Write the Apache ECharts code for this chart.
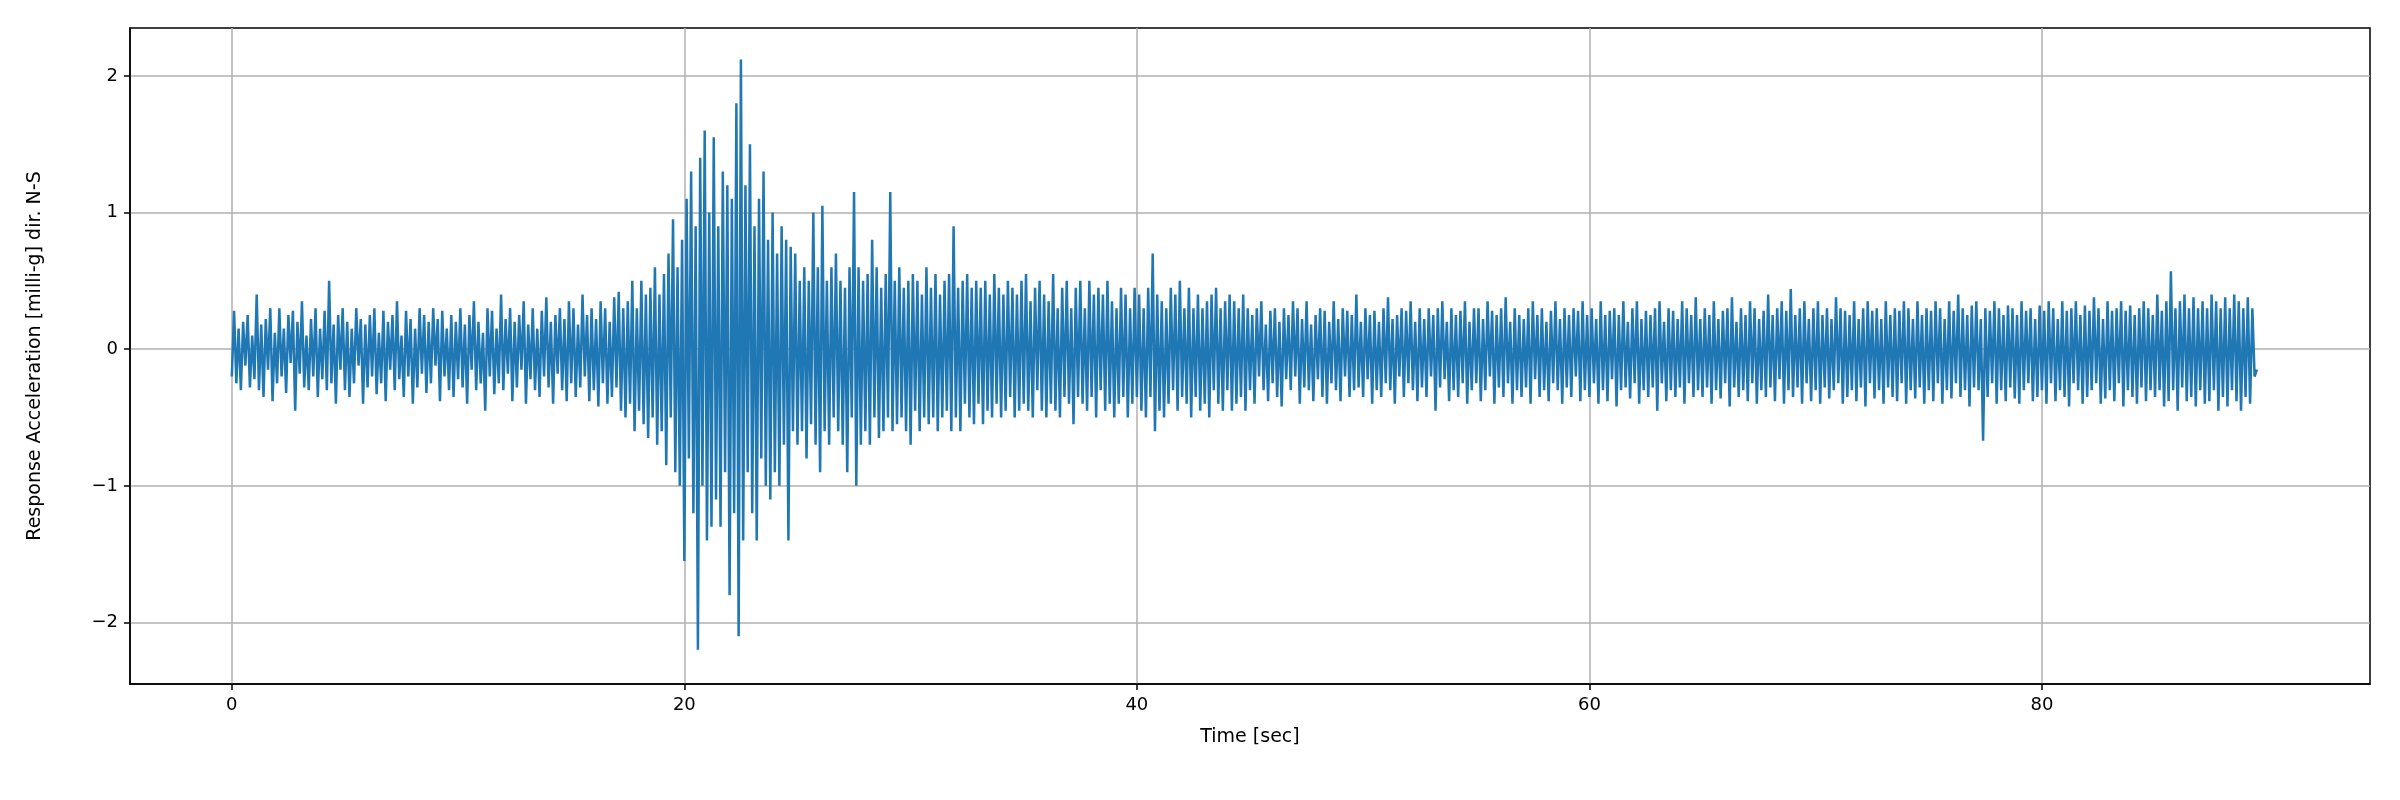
<!DOCTYPE html>
<html><head><meta charset="utf-8">
<script src="https://cdn.jsdelivr.net/npm/echarts@6/dist/echarts.min.js"></script>
<style>html,body{margin:0;background:#fff}#c{width:2400px;height:800px}</style>
</head><body><div id="c"></div>
<script>
const dt = 0.1;
const xTicks = [0, 20, 40, 60, 80];
const yTicks = [-2, -1, 0, 1, 2];
const values = [
// 0-5
-0.2,0.28,-0.25,0.15,-0.3,0.2,-0.12,0.25,-0.28,0.1,-0.22,0.4,-0.3,0.18,-0.35,0.22,-0.15,0.3,-0.38,0.12,
-0.25,0.3,-0.2,0.15,-0.32,0.25,-0.1,0.28,-0.45,0.2,-0.18,0.35,-0.28,0.1,-0.3,0.22,-0.2,0.3,-0.35,0.15,
-0.22,0.28,-0.3,0.5,-0.25,0.18,-0.4,0.25,-0.15,0.3,
// 5-10
-0.3,0.2,-0.35,0.15,-0.25,0.3,-0.12,0.22,-0.4,0.18,-0.28,0.25,-0.2,0.3,-0.33,0.12,-0.25,0.28,-0.38,0.2,
-0.15,0.25,-0.3,0.35,-0.22,0.1,-0.35,0.28,-0.2,0.22,-0.4,0.15,-0.28,0.3,-0.18,0.25,-0.32,0.2,-0.25,0.3,
-0.12,0.22,-0.38,0.28,-0.2,0.15,-0.3,0.25,-0.35,0.2,
// 10-15
-0.22,0.3,-0.28,0.18,-0.4,0.25,-0.15,0.35,-0.3,0.2,-0.25,0.12,-0.45,0.3,-0.2,0.28,-0.33,0.15,-0.25,0.4,
-0.3,0.22,-0.18,0.3,-0.38,0.2,-0.28,0.25,-0.15,0.35,-0.4,0.18,-0.22,0.3,-0.3,0.15,-0.35,0.28,-0.2,0.38,
-0.28,0.2,-0.4,0.25,-0.18,0.3,-0.3,0.22,-0.38,0.35,
// 15-20
-0.25,0.3,-0.35,0.18,-0.28,0.4,-0.2,0.25,-0.38,0.3,-0.3,0.22,-0.42,0.35,-0.25,0.3,-0.4,0.2,-0.35,0.38,
-0.28,0.42,-0.45,0.3,-0.5,0.35,-0.4,0.5,-0.6,0.3,-0.45,0.5,-0.55,0.4,-0.65,0.45,-0.5,0.6,-0.7,0.4,
-0.6,0.55,-0.85,0.7,-0.5,0.95,-0.9,0.6,-1.0,0.8,
// 20-25
-1.55,1.1,-0.8,1.3,-1.2,0.9,-2.2,1.4,-1.0,1.6,-1.4,1.0,-1.3,1.55,-1.1,0.9,-1.3,1.3,-0.9,1.2,
-1.8,1.1,-1.2,1.8,-2.1,2.12,-1.4,1.2,-0.9,1.5,-1.2,0.9,-1.4,1.1,-0.8,1.3,-1.0,0.8,-1.1,1.0,
-0.9,0.7,-1.0,0.9,-0.7,0.8,-1.4,0.75,-0.6,0.7,
// 25-30
-0.7,0.5,-0.6,0.6,-0.8,0.5,-0.55,1.0,-0.7,0.6,-0.9,1.05,-0.6,0.5,-0.7,0.6,-0.5,0.7,-0.6,0.5,
-0.7,0.45,-0.9,0.6,-0.5,1.15,-1.0,0.6,-0.7,0.5,-0.6,0.55,-0.7,0.8,-0.5,0.6,-0.65,0.45,-0.6,0.55,
-0.5,1.15,-0.6,0.5,-0.55,0.6,-0.5,0.45,-0.6,0.5,
// 30-35
-0.7,0.55,-0.45,0.5,-0.6,0.4,-0.5,0.6,-0.55,0.45,-0.5,0.55,-0.6,0.4,-0.5,0.5,-0.45,0.55,-0.6,0.9,
-0.5,0.45,-0.6,0.5,-0.4,0.55,-0.5,0.45,-0.55,0.5,-0.4,0.45,-0.55,0.5,-0.45,0.4,-0.5,0.55,-0.4,0.45,
-0.5,0.4,-0.45,0.5,-0.35,0.45,-0.5,0.4,-0.45,0.5,
// 35-40
-0.4,0.55,-0.45,0.35,-0.5,0.45,-0.3,0.5,-0.45,0.4,-0.5,0.35,-0.4,0.55,-0.45,0.3,-0.5,0.45,-0.35,0.5,
-0.4,0.3,-0.55,0.45,-0.35,0.5,-0.4,0.3,-0.45,0.5,-0.35,0.4,-0.5,0.45,-0.3,0.4,-0.45,0.5,-0.4,0.35,
-0.5,0.3,-0.4,0.45,-0.35,0.4,-0.5,0.3,-0.4,0.45,
// 40-45
-0.35,0.4,-0.45,0.3,-0.5,0.45,-0.35,0.7,-0.6,0.4,-0.45,0.35,-0.5,0.3,-0.4,0.45,-0.3,0.4,-0.45,0.5,
-0.35,0.3,-0.4,0.45,-0.5,0.3,-0.35,0.4,-0.45,0.3,-0.4,0.35,-0.5,0.4,-0.3,0.45,-0.4,0.3,-0.45,0.35,
-0.3,0.4,-0.45,0.35,-0.4,0.3,-0.35,0.4,-0.45,0.3,
// 45-50
-0.3,0.25,-0.4,0.3,-0.2,0.35,-0.3,0.18,-0.38,0.28,-0.25,0.3,-0.35,0.2,-0.42,0.3,-0.22,0.25,-0.3,0.35,
-0.2,0.3,-0.4,0.22,-0.28,0.35,-0.3,0.18,-0.38,0.25,-0.22,0.3,-0.35,0.28,-0.4,0.2,-0.25,0.35,-0.3,0.22,
-0.38,0.3,-0.2,0.28,-0.35,0.25,-0.3,0.4,-0.28,0.2,
// 50-55
-0.35,0.3,-0.22,0.25,-0.4,0.28,-0.3,0.2,-0.35,0.3,-0.25,0.38,-0.3,0.22,-0.4,0.25,-0.2,0.3,-0.35,0.28,
-0.25,0.35,-0.3,0.2,-0.38,0.3,-0.28,0.22,-0.35,0.3,-0.2,0.25,-0.45,0.3,-0.28,0.35,-0.22,0.2,-0.38,0.3,
-0.3,0.25,-0.35,0.28,-0.25,0.35,-0.4,0.2,-0.3,0.3,
// 55-60
-0.25,0.3,-0.38,0.22,-0.3,0.35,-0.2,0.28,-0.4,0.25,-0.28,0.3,-0.35,0.38,-0.25,0.2,-0.4,0.3,-0.3,0.25,
-0.35,0.22,-0.28,0.3,-0.4,0.35,-0.22,0.25,-0.35,0.3,-0.3,0.2,-0.38,0.28,-0.25,0.35,-0.3,0.22,-0.4,0.3,
-0.28,0.25,-0.35,0.3,-0.2,0.28,-0.38,0.35,-0.3,0.25,
// 60-65
-0.35,0.3,-0.25,0.22,-0.4,0.35,-0.3,0.25,-0.38,0.28,-0.22,0.3,-0.42,0.25,-0.3,0.35,-0.28,0.2,-0.36,0.3,
-0.25,0.35,-0.4,0.22,-0.3,0.28,-0.35,0.25,-0.28,0.3,-0.45,0.35,-0.25,0.2,-0.38,0.3,-0.3,0.28,-0.35,0.22,
-0.28,0.35,-0.4,0.3,-0.25,0.25,-0.35,0.38,-0.3,0.22,
// 65-70
-0.35,0.3,-0.28,0.25,-0.4,0.35,-0.3,0.22,-0.36,0.28,-0.25,0.3,-0.42,0.38,-0.28,0.2,-0.35,0.3,-0.3,0.25,
-0.38,0.35,-0.25,0.3,-0.4,0.22,-0.3,0.28,-0.35,0.4,-0.28,0.25,-0.38,0.3,-0.22,0.35,-0.4,0.28,-0.3,0.44,
-0.35,0.25,-0.28,0.3,-0.4,0.35,-0.25,0.22,-0.38,0.3,
// 70-75
-0.3,0.35,-0.4,0.25,-0.28,0.3,-0.36,0.22,-0.3,0.38,-0.25,0.3,-0.4,0.28,-0.35,0.25,-0.3,0.35,-0.38,0.22,
-0.28,0.3,-0.42,0.35,-0.25,0.28,-0.36,0.3,-0.3,0.22,-0.4,0.35,-0.28,0.25,-0.35,0.3,-0.38,0.28,-0.25,0.35,
-0.4,0.3,-0.3,0.22,-0.36,0.35,-0.28,0.25,-0.4,0.3,
// 75-80
-0.3,0.28,-0.38,0.35,-0.25,0.3,-0.4,0.22,-0.3,0.35,-0.36,0.28,-0.25,0.4,-0.35,0.3,-0.3,0.25,-0.42,0.32,
-0.28,0.35,-0.3,0.22,-0.67,0.3,-0.35,0.28,-0.25,0.35,-0.4,0.3,-0.3,0.25,-0.38,0.32,-0.28,0.3,-0.36,0.25,
-0.4,0.35,-0.3,0.28,-0.25,0.3,-0.38,0.22,-0.35,0.32,
// 80-85
-0.3,0.28,-0.4,0.35,-0.25,0.3,-0.38,0.22,-0.3,0.35,-0.35,0.28,-0.42,0.3,-0.25,0.35,-0.3,0.25,-0.4,0.32,
-0.35,0.28,-0.3,0.38,-0.25,0.3,-0.4,0.22,-0.36,0.35,-0.3,0.28,-0.38,0.3,-0.25,0.35,-0.42,0.28,-0.3,0.32,
-0.35,0.25,-0.4,0.3,-0.28,0.35,-0.38,0.3,-0.3,0.25,
// 85-89.5
-0.35,0.4,-0.3,0.28,-0.42,0.35,-0.38,0.57,-0.3,0.3,-0.45,0.35,-0.28,0.4,-0.38,0.3,-0.35,0.38,-0.42,0.3,
-0.3,0.35,-0.4,0.3,-0.38,0.4,-0.3,0.35,-0.45,0.3,-0.35,0.38,-0.42,0.3,-0.3,0.4,-0.38,0.35,-0.45,0.3,
-0.35,0.38,-0.4,0.3,-0.2,-0.15
];
const data = values.map((v, i) => [i * dt, v]);
const chart = echarts.init(document.getElementById('c'));
const font = 'DejaVu Sans';
chart.setOption({
  animation: false,
  grid: {left: 130, right: 30, top: 28, bottom: 116, show: true, borderColor: '#000', borderWidth: 1.5},
  xAxis: {type: 'value', min: -4.5, max: 94.5, name: 'Time [sec]', nameLocation: 'middle', nameGap: 44,
    nameTextStyle: {fontFamily: font, fontSize: 19, color: '#000'},
    axisLine: {show: true, onZero: false, lineStyle: {color: '#000', width: 1.5}},
    axisTick: {show: true, customValues: xTicks, length: 6, lineStyle: {color: '#000', width: 1.5}},
    axisLabel: {customValues: xTicks, fontFamily: font, fontSize: 18, color: '#000', margin: 12},
    splitLine: {show: true, lineStyle: {color: '#b0b0b0', width: 1.5}}},
  yAxis: {type: 'value', min: -2.45, max: 2.35, name: 'Response Acceleration [milli-g] dir. N-S',
    nameLocation: 'middle', nameGap: 85, nameTextStyle: {fontFamily: font, fontSize: 19, color: '#000'},
    axisLine: {show: true, onZero: false, lineStyle: {color: '#000', width: 1.5}},
    axisTick: {show: true, customValues: yTicks, length: 6, lineStyle: {color: '#000', width: 1.5}},
    axisLabel: {customValues: yTicks, fontFamily: font, fontSize: 18, color: '#000', margin: 12,
      formatter: v => (v < 0 ? '\u2212' + (-v) : '' + v)},
    splitLine: {show: true, lineStyle: {color: '#b0b0b0', width: 1.5}}},
  series: [{type: 'line', data: data, showSymbol: false, lineStyle: {color: '#1f77b4', width: 2.5}}]
});
</script></body></html>
